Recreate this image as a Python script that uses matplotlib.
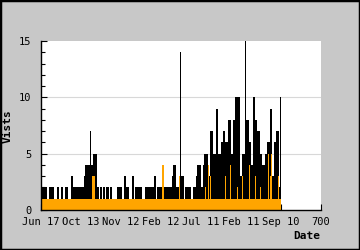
import numpy as np
import matplotlib
matplotlib.use("Agg")
import matplotlib.pyplot as plt
from matplotlib.patches import Rectangle

plt.rcParams['font.family'] = ['DejaVu Sans Mono']

# one value per ~2.5 days (day 0 .. 600)
visits = [
    2,2,2,2,2,2,1,1,2,2,2,2,2,1,1,1,2,2,1,1,
    2,2,1,1,2,2,2,1,1,1,3,3,2,2,2,2,2,2,2,2,
    2,2,2,3,4,4,4,4,4,7,4,4,5,5,5,5,2,2,1,2,
    2,1,2,2,1,2,2,2,1,2,2,1,1,1,1,1,2,2,2,2,
    2,1,1,3,3,2,2,2,1,1,1,3,3,1,2,2,2,2,2,2,
    2,1,1,1,2,2,2,2,2,2,2,2,2,3,3,1,2,2,2,2,
    2,4,4,2,2,2,2,2,2,2,2,3,4,4,4,2,2,2,3,14,
    3,3,3,1,2,2,2,2,2,2,1,1,2,2,2,3,4,4,4,4,
    2,2,4,5,5,5,5,4,3,7,7,7,5,5,5,9,9,5,5,5,
    6,6,7,7,6,6,6,8,8,8,5,5,8,8,10,10,10,10,10,3,
    3,5,5,5,15,8,8,8,6,6,4,4,10,10,8,8,7,7,7,5,
    5,4,4,4,5,5,6,6,6,9,9,3,3,6,6,7,7,7,2,10,
]
unique = [
    1,1,1,1,1,1,1,1,1,1,1,1,1,1,1,1,1,1,1,1,
    1,1,1,1,1,1,1,1,1,1,1,1,1,1,1,1,1,1,1,1,
    1,1,1,1,1,1,1,1,1,1,1,3,3,3,1,1,1,1,1,1,
    1,1,1,1,1,1,1,1,1,1,1,1,1,1,1,1,1,1,1,1,
    1,1,1,1,1,1,1,1,1,1,1,1,1,1,1,1,1,1,1,1,
    1,1,1,1,1,1,1,1,1,1,1,1,1,1,1,1,1,1,1,1,
    1,4,4,1,1,1,1,1,1,1,1,1,1,1,1,1,1,1,3,1,
    1,1,1,1,1,1,1,1,1,1,1,1,1,1,1,1,1,1,1,1,
    1,1,1,1,2,1,1,4,1,3,1,1,1,1,1,1,1,1,1,1,
    1,1,1,1,3,1,1,1,1,4,1,1,1,1,1,1,2,1,1,1,
    1,3,1,1,1,1,1,1,4,1,1,1,1,1,3,1,1,1,1,2,
    1,1,1,1,1,1,1,5,1,3,5,1,1,1,1,1,1,3,1,1,
]
tick_vals = [0, 100, 200, 300, 400, 500, 600, 700]
tick_labels = ["Jun 17", "Oct 13", "Nov 12", "Feb 12", "Jul 11", "Feb 11", "Sep 10", "700"]
step_days = 2.5

bg = '#c8c8c8'
fig = plt.figure(figsize=(3.6, 2.5), dpi=100, facecolor=bg)
ax = fig.add_axes([41/360, 40/250, 280/360, 169/250])
ax.set_facecolor('white')

x = np.arange(len(visits)) * step_days
xe = np.append(x, x[-1] + step_days)
v = np.append(visits, visits[-1])
u = np.append(unique, unique[-1])

for g in [5, 10]:
    ax.axhline(g, color='#d8d8d8', lw=0.8, zorder=0)

ax.fill_between(xe, 0, v, step='post', color='black', lw=0, zorder=2)
ax.fill_between(xe, 0, u, step='post', color='#ffa500', lw=0, zorder=3)

ax.set_xlim(0, 700)
ax.set_ylim(0, 15)
ax.set_xticks(tick_vals)
ax.set_xticklabels(tick_labels)
ax.set_yticks([0, 5, 10, 15])
ax.set_yticks(range(0, 16), minor=True)
ax.tick_params(axis='both', which='both', direction='in', labelsize=7.5, color='black')
ax.tick_params(axis='y', which='major', length=4, width=0.8, pad=7)
ax.tick_params(axis='y', which='minor', length=3, width=0.8)
ax.tick_params(axis='x', which='major', length=4, width=0.8, pad=5)
for s in ['top', 'right']:
    ax.spines[s].set_visible(False)
for s in ['left', 'bottom']:
    ax.spines[s].set_linewidth(1)
    ax.spines[s].set_zorder(5)

fig.text(8/360, 1 - 126/250, "Vists", rotation=90, ha='center', va='center',
         fontsize=8, fontweight='bold')
fig.text(320/360, 1 - 236/250, "Date", ha='right', va='center',
         fontsize=8, fontweight='bold')

fig.patches.append(Rectangle((0, 0), 1, 1, transform=fig.transFigure, fill=False,
                             edgecolor='black', lw=2.5))
fig.savefig("out.png", dpi=100, facecolor=bg)
